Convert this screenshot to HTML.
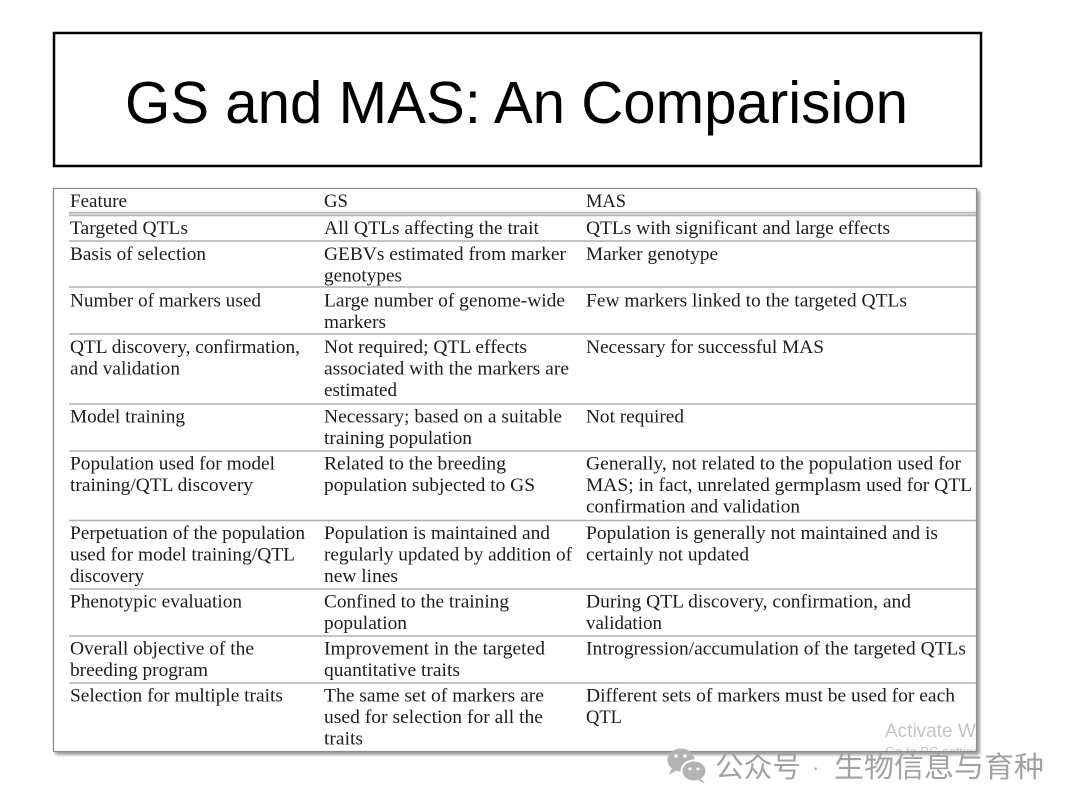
<!DOCTYPE html>
<html>
<head>
<meta charset="utf-8">
<style>
  html, body { margin: 0; padding: 0; background: #ffffff; }
  svg { display: block; }
  .t { font-family: "Liberation Serif", "DejaVu Serif", serif; font-size: 19px; fill: #1c1c1c; }
</style>
</head>
<body>
<svg width="1080" height="810" viewBox="0 0 1080 810" xmlns="http://www.w3.org/2000/svg">
  <defs>
    <filter id="sh" x="-5%" y="-5%" width="115%" height="115%">
      <feDropShadow dx="2.5" dy="2.5" stdDeviation="1.5" flood-color="#000" flood-opacity="0.45"/>
    </filter>
    <clipPath id="tclip"><rect x="54" y="189" width="922" height="562"/></clipPath>
  </defs>
  <rect x="0" y="0" width="1080" height="810" fill="#ffffff"/>

  <!-- Title box -->
  <rect x="54" y="33" width="927" height="133" fill="#ffffff" stroke="#000" stroke-width="2.5"/>
  <text x="125" y="123" font-family="Liberation Sans, Carlito, sans-serif" font-size="59" fill="#000" textLength="783" lengthAdjust="spacingAndGlyphs">GS and MAS: An Comparision</text>

  <!-- Table frame with shadow -->
  <rect x="53.5" y="188.5" width="923" height="563" fill="#ffffff" stroke="#8a8a8a" stroke-width="1.2" filter="url(#sh)"/>

  <!-- Header double line -->
  <rect x="69" y="212" width="907" height="4" fill="#d2d2d2"/>
  <line x1="69" y1="212.3" x2="976" y2="212.3" stroke="#a8a8a8" stroke-width="1"/>
  <line x1="69" y1="215.7" x2="976" y2="215.7" stroke="#a8a8a8" stroke-width="1"/>

  <!-- Row separators -->
  <g stroke="#b0b0b0" stroke-width="1.6">
    <line x1="69" y1="241" x2="976" y2="241"/>
    <line x1="69" y1="287" x2="976" y2="287"/>
    <line x1="69" y1="334" x2="976" y2="334"/>
    <line x1="69" y1="404" x2="976" y2="404"/>
    <line x1="69" y1="451" x2="976" y2="451"/>
    <line x1="69" y1="520.5" x2="976" y2="520.5"/>
    <line x1="69" y1="589" x2="976" y2="589"/>
    <line x1="69" y1="636" x2="976" y2="636"/>
    <line x1="69" y1="683" x2="976" y2="683"/>
  </g>

  <!-- Header -->
  <text class="t" x="70" y="207" textLength="57" lengthAdjust="spacingAndGlyphs">Feature</text>
  <text class="t" x="324" y="207" textLength="24" lengthAdjust="spacingAndGlyphs">GS</text>
  <text class="t" x="586" y="207" textLength="40" lengthAdjust="spacingAndGlyphs">MAS</text>

  <!-- Row 1 -->
  <text class="t" x="70" y="234" textLength="118" lengthAdjust="spacingAndGlyphs">Targeted QTLs</text>
  <text class="t" x="324" y="234" textLength="215" lengthAdjust="spacingAndGlyphs">All QTLs affecting the trait</text>
  <text class="t" x="586" y="234" textLength="304" lengthAdjust="spacingAndGlyphs">QTLs with significant and large effects</text>

  <!-- Row 2 -->
  <text class="t" x="70" y="260" textLength="136" lengthAdjust="spacingAndGlyphs">Basis of selection</text>
  <text class="t" x="324" y="260" textLength="242" lengthAdjust="spacingAndGlyphs">GEBVs estimated from marker</text>
  <text class="t" x="324" y="281.5" textLength="78" lengthAdjust="spacingAndGlyphs">genotypes</text>
  <text class="t" x="586" y="260" textLength="132" lengthAdjust="spacingAndGlyphs">Marker genotype</text>

  <!-- Row 3 -->
  <text class="t" x="70" y="306.5" textLength="191" lengthAdjust="spacingAndGlyphs">Number of markers used</text>
  <text class="t" x="324" y="306.5" textLength="241" lengthAdjust="spacingAndGlyphs">Large number of genome-wide</text>
  <text class="t" x="324" y="328" textLength="62" lengthAdjust="spacingAndGlyphs">markers</text>
  <text class="t" x="586" y="306.5" textLength="321" lengthAdjust="spacingAndGlyphs">Few markers linked to the targeted QTLs</text>

  <!-- Row 4 -->
  <text class="t" x="70" y="353" textLength="230" lengthAdjust="spacingAndGlyphs">QTL discovery, confirmation,</text>
  <text class="t" x="70" y="374.5" textLength="110" lengthAdjust="spacingAndGlyphs">and validation</text>
  <text class="t" x="324" y="353" textLength="203" lengthAdjust="spacingAndGlyphs">Not required; QTL effects</text>
  <text class="t" x="324" y="374.5" textLength="245" lengthAdjust="spacingAndGlyphs">associated with the markers are</text>
  <text class="t" x="324" y="396" textLength="73" lengthAdjust="spacingAndGlyphs">estimated</text>
  <text class="t" x="586" y="353" textLength="238" lengthAdjust="spacingAndGlyphs">Necessary for successful MAS</text>

  <!-- Row 5 -->
  <text class="t" x="70" y="422.5" textLength="115" lengthAdjust="spacingAndGlyphs">Model training</text>
  <text class="t" x="324" y="422.5" textLength="238" lengthAdjust="spacingAndGlyphs">Necessary; based on a suitable</text>
  <text class="t" x="324" y="444" textLength="148" lengthAdjust="spacingAndGlyphs">training population</text>
  <text class="t" x="586" y="422.5" textLength="98" lengthAdjust="spacingAndGlyphs">Not required</text>

  <!-- Row 6 -->
  <text class="t" x="70" y="469.5" textLength="205" lengthAdjust="spacingAndGlyphs">Population used for model</text>
  <text class="t" x="70" y="491" textLength="183" lengthAdjust="spacingAndGlyphs">training/QTL discovery</text>
  <text class="t" x="324" y="469.5" textLength="182" lengthAdjust="spacingAndGlyphs">Related to the breeding</text>
  <text class="t" x="324" y="491" textLength="211" lengthAdjust="spacingAndGlyphs">population subjected to GS</text>
  <text class="t" x="586" y="469.5" textLength="375" lengthAdjust="spacingAndGlyphs">Generally, not related to the population used for</text>
  <text class="t" x="586" y="491" textLength="386" lengthAdjust="spacingAndGlyphs">MAS; in fact, unrelated germplasm used for QTL</text>
  <text class="t" x="586" y="512.5" textLength="214" lengthAdjust="spacingAndGlyphs">confirmation and validation</text>

  <!-- Row 7 -->
  <text class="t" x="70" y="539" textLength="235" lengthAdjust="spacingAndGlyphs">Perpetuation of the population</text>
  <text class="t" x="70" y="560.5" textLength="225" lengthAdjust="spacingAndGlyphs">used for model training/QTL</text>
  <text class="t" x="70" y="582" textLength="74" lengthAdjust="spacingAndGlyphs">discovery</text>
  <text class="t" x="324" y="539" textLength="226" lengthAdjust="spacingAndGlyphs">Population is maintained and</text>
  <text class="t" x="324" y="560.5" textLength="248" lengthAdjust="spacingAndGlyphs">regularly updated by addition of</text>
  <text class="t" x="324" y="582" textLength="74" lengthAdjust="spacingAndGlyphs">new lines</text>
  <text class="t" x="586" y="539" textLength="352" lengthAdjust="spacingAndGlyphs">Population is generally not maintained and is</text>
  <text class="t" x="586" y="560.5" textLength="163" lengthAdjust="spacingAndGlyphs">certainly not updated</text>

  <!-- Row 8 -->
  <text class="t" x="70" y="607.5" textLength="172" lengthAdjust="spacingAndGlyphs">Phenotypic evaluation</text>
  <text class="t" x="324" y="607.5" textLength="185" lengthAdjust="spacingAndGlyphs">Confined to the training</text>
  <text class="t" x="324" y="629" textLength="83" lengthAdjust="spacingAndGlyphs">population</text>
  <text class="t" x="586" y="607.5" textLength="325" lengthAdjust="spacingAndGlyphs">During QTL discovery, confirmation, and</text>
  <text class="t" x="586" y="629" textLength="76" lengthAdjust="spacingAndGlyphs">validation</text>

  <!-- Row 9 -->
  <text class="t" x="70" y="654.5" textLength="184" lengthAdjust="spacingAndGlyphs">Overall objective of the</text>
  <text class="t" x="70" y="676" textLength="138" lengthAdjust="spacingAndGlyphs">breeding program</text>
  <text class="t" x="324" y="654.5" textLength="221" lengthAdjust="spacingAndGlyphs">Improvement in the targeted</text>
  <text class="t" x="324" y="676" textLength="136" lengthAdjust="spacingAndGlyphs">quantitative traits</text>
  <text class="t" x="586" y="654.5" textLength="380" lengthAdjust="spacingAndGlyphs">Introgression/accumulation of the targeted QTLs</text>

  <!-- Row 10 -->
  <text class="t" x="70" y="701.5" textLength="213" lengthAdjust="spacingAndGlyphs">Selection for multiple traits</text>
  <text class="t" x="324" y="701.5" textLength="220" lengthAdjust="spacingAndGlyphs">The same set of markers are</text>
  <text class="t" x="324" y="723" textLength="219" lengthAdjust="spacingAndGlyphs">used for selection for all the</text>
  <text class="t" x="324" y="744.5" textLength="39" lengthAdjust="spacingAndGlyphs">traits</text>
  <text class="t" x="586" y="701.5" textLength="369" lengthAdjust="spacingAndGlyphs">Different sets of markers must be used for each</text>
  <text class="t" x="586" y="723" textLength="36" lengthAdjust="spacingAndGlyphs">QTL</text>

  <!-- Windows watermark (clipped to table) -->
  <g clip-path="url(#tclip)" font-family="Liberation Sans, DejaVu Sans, sans-serif" fill="#c4c4c4">
    <text x="885" y="737" font-size="19">Activate Windows</text>
    <text x="885" y="756" font-size="13">Go to PC settings</text>
  </g>

  <!-- WeChat footer -->
  <g fill="#b3b3b3">
    <ellipse cx="681" cy="760" rx="13.5" ry="11.5"/>
    <path d="M672 768 L669 775 L677 770 Z"/>
    <ellipse cx="694" cy="771" rx="12.5" ry="10.5" stroke="#ffffff" stroke-width="2"/>
    <path d="M701 779 L705 784 L698 780 Z"/>
  </g>
  <g fill="#ffffff">
    <circle cx="676" cy="756" r="1.8"/>
    <circle cx="685" cy="756" r="1.8"/>
    <circle cx="690" cy="769" r="1.5"/>
    <circle cx="698" cy="769" r="1.5"/>
  </g>
  <g font-family="Liberation Sans, Noto Sans CJK SC, sans-serif" fill="#a2a2a2" font-size="29">
    <text x="715" y="777" textLength="86" lengthAdjust="spacingAndGlyphs">公众号</text>
    <text x="812" y="775" font-size="22">·</text>
    <text x="834" y="777" textLength="210" lengthAdjust="spacingAndGlyphs">生物信息与育种</text>
  </g>
</svg>
</body>
</html>
